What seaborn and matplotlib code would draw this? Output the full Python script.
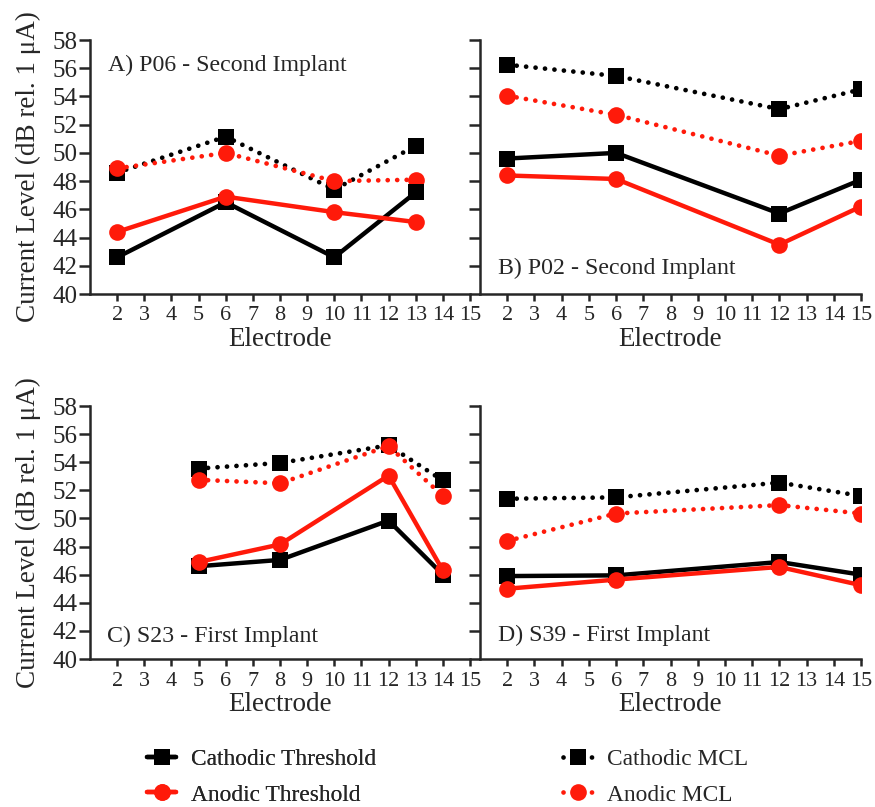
import numpy as np
import pandas as pd
import matplotlib
matplotlib.use('Agg')
import matplotlib.pyplot as plt
import seaborn as sns

# electrode positions and values per panel
a_elec = [2, 6, 10, 13]
a_cath_thr = [42.6, 46.5, 42.6, 47.2]
a_anod_thr = [44.4, 46.9, 45.8, 45.1]
a_cath_mcl = [48.6, 51.15, 47.4, 50.5]
a_anod_mcl = [48.9, 50.0, 48.0, 48.1]

b_elec = [2, 6, 12, 15]
b_cath_thr = [49.6, 50.0, 45.7, 48.1]
b_anod_thr = [48.4, 48.15, 43.5, 46.2]
b_cath_mcl = [56.25, 55.45, 53.1, 54.5]
b_anod_mcl = [54.05, 52.7, 49.8, 50.85]

c_elec = [5, 8, 12, 14]
c_cath_thr = [46.6, 47.05, 49.85, 46.0]
c_anod_thr = [46.9, 48.15, 53.05, 46.3]
c_cath_mcl = [53.55, 53.95, 55.2, 52.7]
c_anod_mcl = [52.75, 52.5, 55.15, 51.6]

d_elec = [2, 6, 12, 15]
d_cath_thr = [45.9, 45.95, 46.9, 46.0]
d_anod_thr = [45.0, 45.65, 46.55, 45.25]
d_cath_mcl = [51.4, 51.5, 52.55, 51.6]
d_anod_mcl = [48.4, 50.35, 50.95, 50.35]

panel_titles = ['A) P06 - Second Implant', 'B) P02 - Second Implant',
                'C) S23 - First Implant', 'D) S39 - First Implant']
series_names = ['Cathodic Threshold', 'Anodic Threshold', 'Cathodic MCL', 'Anodic MCL']
x_ticks = list(range(2, 16))
y_ticks = list(range(40, 59, 2))

sns.set_style('ticks')
plt.rcParams['font.family'] = ['Liberation Serif', 'DejaVu Serif']

panels = [
    (a_elec, [a_cath_thr, a_anod_thr, a_cath_mcl, a_anod_mcl]),
    (b_elec, [b_cath_thr, b_anod_thr, b_cath_mcl, b_anod_mcl]),
    (c_elec, [c_cath_thr, c_anod_thr, c_cath_mcl, c_anod_mcl]),
    (d_elec, [d_cath_thr, d_anod_thr, d_cath_mcl, d_anod_mcl]),
]

dots = (0, (0.01, 2.0))
styles = {
    'Cathodic Threshold': dict(color='black', marker='s', ms=11, lw=3.2, ls='-'),
    'Anodic Threshold': dict(color='#ff1a0a', marker='o', ms=12, lw=3.2, ls='-'),
    'Cathodic MCL': dict(color='black', marker='s', ms=11, lw=3.4, ls=dots),
    'Anodic MCL': dict(color='#ff1a0a', marker='o', ms=12, lw=3.4, ls=dots),
}

fig = plt.figure(figsize=(8.75, 8.07), dpi=100)
W, H = 875, 807
boxes = [(90, 40, 470, 294), (480, 40, 861, 294),
         (90, 406, 470, 659), (480, 406, 861, 659)]
title_pos = [(0.047, 0.90), (0.047, 0.10), (0.045, 0.09), (0.047, 0.095)]

handles = {}
for i, ((elec, vals), box) in enumerate(zip(panels, boxes)):
    x0, y0, x1, y1 = box
    ax = fig.add_axes([x0 / W, 1 - y1 / H, (x1 - x0) / W, (y1 - y0) / H])
    df = pd.DataFrame({'Electrode': elec * 4,
                       'Level': sum(vals, []),
                       'Measure': np.repeat(series_names, len(elec))})
    # MCL first, thresholds on top
    for name in ['Cathodic MCL', 'Anodic MCL', 'Cathodic Threshold', 'Anodic Threshold']:
        st = styles[name]
        sub = df[df['Measure'] == name]
        sns.lineplot(data=sub, x='Electrode', y='Level', ax=ax, color=st['color'],
                     marker=st['marker'], markersize=st['ms'], linewidth=st['lw'],
                     linestyle=st['ls'], markeredgewidth=0, dash_capstyle='round',
                     label=name, legend=False)
        handles[name] = ax.lines[-1]
    ax.set_xlim(1, 15)
    ax.set_ylim(40, 58)
    ax.set_xticks(x_ticks)
    ax.set_yticks(y_ticks)
    ax.set_xlabel('Electrode', fontsize=19.5, labelpad=1)
    sns.despine(ax=ax)
    for sp in ['left', 'bottom']:
        ax.spines[sp].set_linewidth(1.8)
    ax.tick_params(axis='x', length=5, width=1.8, labelsize=16, pad=4)
    ax.tick_params(axis='y', length=8, width=1.8, labelsize=18, pad=1)
    if i % 2 == 0:
        ax.set_ylabel('Current Level (dB rel. 1 μA)', fontsize=19.5, labelpad=8)
    else:
        ax.set_ylabel('')
        ax.set_yticklabels([])
    ax.text(title_pos[i][0], title_pos[i][1], panel_titles[i], transform=ax.transAxes,
            fontsize=17.2, ha='left', va='center')

leg_kw = dict(frameon=False, fontsize=16.8, handlelength=1.25, handletextpad=0.65,
              labelspacing=0.62, borderpad=0, borderaxespad=0, loc='center left')
leg1 = fig.legend([handles['Cathodic Threshold'], handles['Anodic Threshold']],
                  ['Cathodic Threshold', 'Anodic Threshold'],
                  bbox_to_anchor=(147 / W, 1 - 777 / H), **leg_kw)
fig.add_artist(leg1)
fig.legend([handles['Cathodic MCL'], handles['Anodic MCL']],
           ['Cathodic MCL', 'Anodic MCL'],
           bbox_to_anchor=(563 / W, 1 - 777 / H), **leg_kw)

fig.savefig('out.png', dpi=100)
